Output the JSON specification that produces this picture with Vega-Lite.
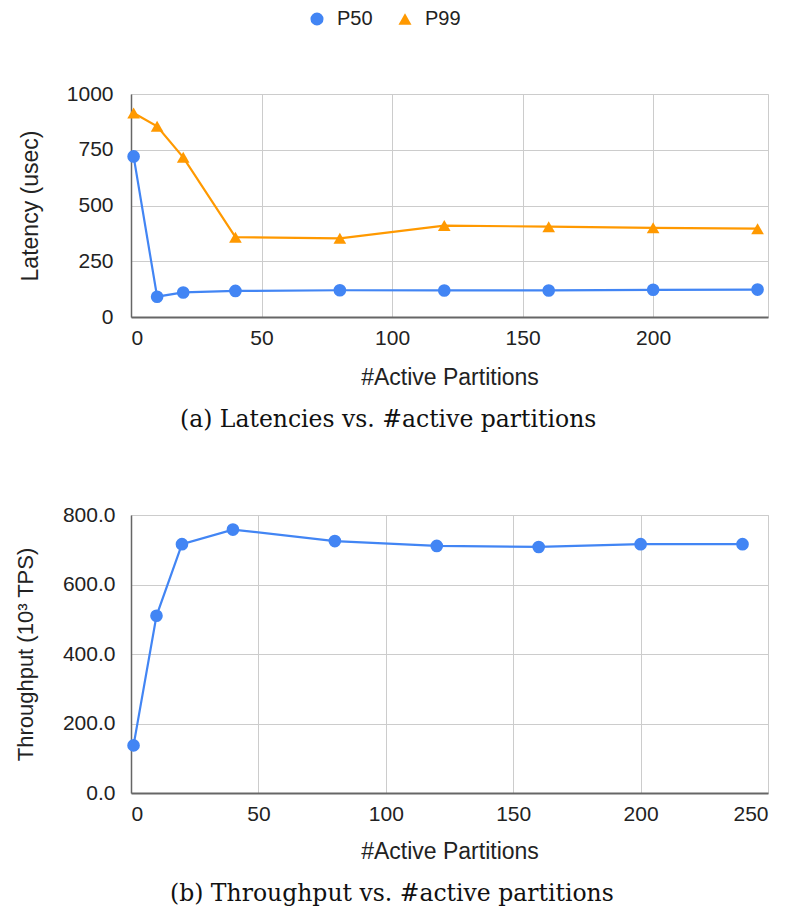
{
  "$schema": "https://vega.github.io/schema/vega-lite/v6.json",
  "padding": {"left": 13, "top": 9, "right": 10, "bottom": 2},
  "spacing": 71,
  "config": {
    "font": "Liberation Sans",
    "view": {"stroke": "#cccccc", "strokeWidth": 1},
    "axis": {
      "labelFont": "Liberation Sans",
      "labelFontSize": 21,
      "labelColor": "#222222",
      "titleFont": "Liberation Sans",
      "titleFontWeight": "normal",
      "titleColor": "#222222",
      "gridColor": "#cccccc",
      "gridWidth": 1,
      "ticks": false,
      "domainColor": "#666666"
    },
    "legend": {
      "labelFont": "Liberation Sans",
      "labelFontSize": 20,
      "labelColor": "#222222"
    }
  },
  "vconcat": [
    {
      "width": 637,
      "height": 223,
      "title": {
        "text": "(a) Latencies vs. #active partitions",
        "orient": "bottom",
        "anchor": "start",
        "frame": "group",
        "dx": 49,
        "offset": 19,
        "font": "DejaVu Serif",
        "fontSize": 23.5,
        "fontWeight": "normal",
        "color": "#111111"
      },
      "data": {
        "values": [
          {"partitions": 1, "series": "P50", "latency": 720},
          {"partitions": 10, "series": "P50", "latency": 91},
          {"partitions": 20, "series": "P50", "latency": 110},
          {"partitions": 40, "series": "P50", "latency": 117},
          {"partitions": 80, "series": "P50", "latency": 120},
          {"partitions": 120, "series": "P50", "latency": 119},
          {"partitions": 160, "series": "P50", "latency": 119},
          {"partitions": 200, "series": "P50", "latency": 122},
          {"partitions": 240, "series": "P50", "latency": 123},
          {"partitions": 1, "series": "P99", "latency": 915},
          {"partitions": 10, "series": "P99", "latency": 855},
          {"partitions": 20, "series": "P99", "latency": 716},
          {"partitions": 40, "series": "P99", "latency": 358},
          {"partitions": 80, "series": "P99", "latency": 353},
          {"partitions": 120, "series": "P99", "latency": 410},
          {"partitions": 160, "series": "P99", "latency": 405},
          {"partitions": 200, "series": "P99", "latency": 400},
          {"partitions": 240, "series": "P99", "latency": 396}
        ]
      },
      "encoding": {
        "x": {
          "field": "partitions",
          "type": "quantitative",
          "scale": {"domain": [0, 244], "nice": false},
          "axis": {
            "values": [0, 50, 100, 150, 200],
            "title": "#Active Partitions",
            "titleFontSize": 23,
            "labelPadding": 10,
            "titlePadding": 18,
            "domainWidth": 2
          }
        },
        "y": {
          "field": "latency",
          "type": "quantitative",
          "scale": {"domain": [0, 1000], "nice": false},
          "axis": {
            "values": [0, 250, 500, 750, 1000],
            "format": "d",
            "title": "Latency (usec)",
            "titleFontSize": 23,
            "labelPadding": 18,
            "titlePadding": 24,
            "domainWidth": 1.5
          }
        },
        "color": {
          "field": "series",
          "type": "nominal",
          "scale": {"domain": ["P50", "P99"], "range": ["#4285F4", "#FF9900"]},
          "legend": {
            "orient": "none",
            "legendX": 176,
            "legendY": -85,
            "direction": "horizontal",
            "title": null,
            "symbolSize": 170,
            "symbolStrokeWidth": 0,
            "symbolType": "circle",
            "columnPadding": 22,
            "labelOffset": 10
          }
        }
      },
      "layer": [
        {
          "mark": {"type": "line", "strokeWidth": 2.2}
        },
        {
          "mark": {"type": "point", "filled": true, "size": 160, "opacity": 1},
          "encoding": {
            "shape": {
              "field": "series",
              "type": "nominal",
              "scale": {"domain": ["P50", "P99"], "range": ["circle", "triangle-up"]},
              "legend": {
                "orient": "none",
                "legendX": 176,
                "legendY": -85,
                "direction": "horizontal",
                "title": null,
                "symbolSize": 170,
                "symbolStrokeWidth": 0,
                "columnPadding": 22,
                "labelOffset": 10
              }
            }
          }
        }
      ]
    },
    {
      "width": 637,
      "height": 278,
      "title": {
        "text": "(b) Throughput vs. #active partitions",
        "orient": "bottom",
        "anchor": "start",
        "frame": "group",
        "dx": 39,
        "offset": 19,
        "font": "DejaVu Serif",
        "fontSize": 23.5,
        "fontWeight": "normal",
        "color": "#111111"
      },
      "data": {
        "values": [
          {"partitions": 1, "throughput": 137},
          {"partitions": 10, "throughput": 510},
          {"partitions": 20, "throughput": 716},
          {"partitions": 40, "throughput": 758},
          {"partitions": 80, "throughput": 725},
          {"partitions": 120, "throughput": 711},
          {"partitions": 160, "throughput": 708},
          {"partitions": 200, "throughput": 716},
          {"partitions": 240, "throughput": 716}
        ]
      },
      "encoding": {
        "x": {
          "field": "partitions",
          "type": "quantitative",
          "scale": {"domain": [0, 250], "nice": false},
          "axis": {
            "values": [0, 50, 100, 150, 200, 250],
            "title": "#Active Partitions",
            "titleFontSize": 23,
            "labelPadding": 10,
            "titlePadding": 16,
            "domainWidth": 2
          }
        },
        "y": {
          "field": "throughput",
          "type": "quantitative",
          "scale": {"domain": [0, 800], "nice": false},
          "axis": {
            "values": [0, 200, 400, 600, 800],
            "format": ".1f",
            "title": "Throughput (10³ TPS)",
            "titleFontSize": 22,
            "labelPadding": 16,
            "titlePadding": 25,
            "domainWidth": 1.5
          }
        }
      },
      "layer": [
        {"mark": {"type": "line", "strokeWidth": 2.2, "color": "#4285F4"}},
        {"mark": {"type": "point", "filled": true, "size": 160, "opacity": 1, "color": "#4285F4"}}
      ]
    }
  ]
}
